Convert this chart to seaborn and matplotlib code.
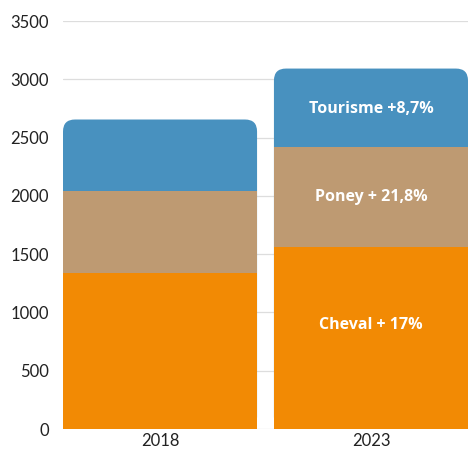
import pandas as pd
import matplotlib
matplotlib.use("Agg")
import matplotlib.pyplot as plt
import seaborn as sns
from matplotlib.patches import FancyBboxPatch

years = ["2018", "2023"]
cheval = [1340, 1560]
poney = [700, 860]
tourisme = [615, 672]
labels_2023 = ["Cheval + 17%", "Poney + 21,8%", "Tourisme +8,7%"]

colors = {"cheval": "#F28A04", "poney": "#BE9A72", "tourisme": "#4891BF"}

df = pd.DataFrame({"year": years, "cheval": cheval, "poney": poney, "tourisme": tourisme})
df["top_poney"] = df["cheval"] + df["poney"]
df["top_tourisme"] = df["top_poney"] + df["tourisme"]

sns.set_style("white")
plt.rcParams["font.family"] = ["Lato", "DejaVu Sans"]

fig = plt.figure(figsize=(4.68, 4.5), dpi=100)
ax = fig.add_axes([63 / 468, 21 / 450, 1 - 63 / 468, 408 / 450])

bar_w = 0.92
# draw back to front: full stack, then cheval+poney, then cheval
sns.barplot(data=df, x="year", y="top_tourisme", color=colors["tourisme"], width=bar_w,
            saturation=1, ax=ax, zorder=2)
n_top = len(ax.patches)
sns.barplot(data=df, x="year", y="top_poney", color=colors["poney"], width=bar_w,
            saturation=1, ax=ax, zorder=3)
sns.barplot(data=df, x="year", y="cheval", color=colors["cheval"], width=bar_w,
            saturation=1, ax=ax, zorder=4)

ax.set_xlim(-0.46, 1.46)
ax.set_ylim(0, 3500)

# replace the top bars with rounded ones
x_px = 405 / (ax.get_xlim()[1] - ax.get_xlim()[0])
y_px = 408 / 3500
r_px = 12
for p in list(ax.patches[:n_top]):
    x, y, w, h = p.get_x(), p.get_y(), p.get_width(), p.get_height()
    p.remove()
    rr = r_px / x_px
    fb = FancyBboxPatch((x, y), w, h, boxstyle=f"round,pad=0,rounding_size={rr}",
                        mutation_aspect=(r_px / y_px) / rr,
                        facecolor=colors["tourisme"], edgecolor="none", zorder=2)
    ax.add_patch(fb)

for p in ax.patches:
    p.set_linewidth(0)

ax.set_yticks(range(0, 3501, 500))
ax.yaxis.grid(True, color="#DDDDDD", linewidth=0.9, zorder=0)
ax.set_axisbelow(True)
for s in ax.spines.values():
    s.set_visible(False)
ax.tick_params(axis="both", length=0, labelsize=12, colors="#222222")
ax.tick_params(axis="y", pad=10)
ax.tick_params(axis="x", pad=3)
ax.set_xlabel("")
ax.set_ylabel("")

# labels on the 2023 bar
i = 1
bottoms = [0, df["cheval"][i], df["top_poney"][i]]
tops = [df["cheval"][i], df["top_poney"][i], df["top_tourisme"][i]]
fracs = [0.57, 0.5, 0.48]
for lab, b, t, f in zip(labels_2023, bottoms, tops, fracs):
    ax.text(i, b + (t - b) * f, lab, ha="center", va="center", color="white",
            fontsize=11.5, fontweight="bold", family=["Open Sans", "DejaVu Sans"], zorder=6)

fig.savefig("out.png", dpi=100)
